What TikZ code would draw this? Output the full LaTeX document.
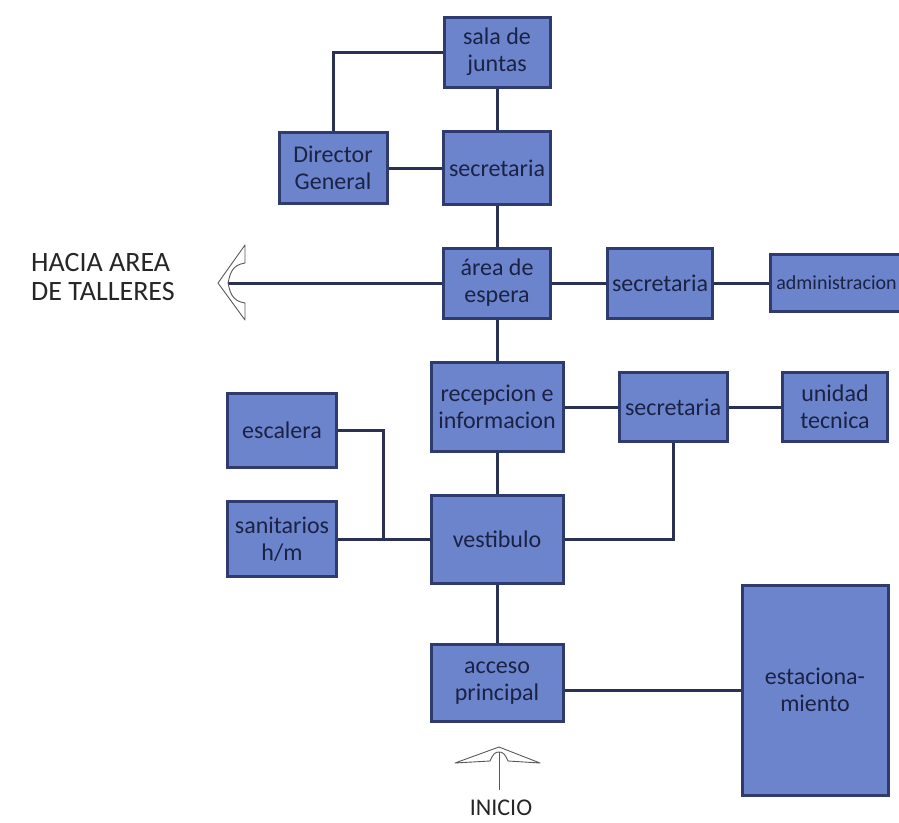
\documentclass[tikz,border=0pt]{standalone}
\usepackage{fontspec}
\setmainfont{Carlito}
\definecolor{cajafondo}{HTML}{6C84CB}
\definecolor{cajaborde}{HTML}{2F3B6E}
\definecolor{linea}{HTML}{2B3152}
\definecolor{texto}{HTML}{1B2245}
\tikzset{
  caja/.style={draw=cajaborde, line width=3pt, fill=cajafondo, text=texto,
    align=center, inner sep=0pt, font=\fontsize{24}{27}\selectfont},
  enlace/.style={draw=linea, line width=3pt},
  flecha/.style={draw=black!65, line width=0.9pt, line join=round},
  rotulo/.style={text=black!85, inner sep=0pt},
}

\begin{document}
\begin{tikzpicture}[x=1pt, y=-1pt]
    \useasboundingbox[fill=white] (0,0) rectangle (899,822);
    % Bloques
    \node[caja, minimum width=106, minimum height=70] (sala) at (497,52) {sala de\\juntas};
    \node[caja, minimum width=107, minimum height=73] (secA) at (497,168) {secretaria};
    \node[caja, minimum width=108, minimum height=71] (director) at (333,168) {Director\\General};
    \node[caja, minimum width=107, minimum height=70] (espera) at (497,283) {área de\\espera};
    \node[caja, minimum width=105, minimum height=70] (secB) at (660,283) {secretaria};
    \node[caja, minimum width=133, minimum height=57, font=\fontsize{20}{24}\selectfont] (admin) at (836.5,283) {administracion};
    \node[caja, minimum width=132, minimum height=89] (recepcion) at (497,407) {recepcion e\\informacion};
    \node[caja, minimum width=108, minimum height=69] (secC) at (673,407) {secretaria};
    \node[caja, minimum width=105, minimum height=69] (unidad) at (835,407) {unidad\\tecnica};
    \node[caja, minimum width=109, minimum height=74] (escalera) at (282,430) {escalera};
    \node[caja, minimum width=109, minimum height=75] (sanitarios) at (282,539) {sanitarios\\h/m};
    \node[caja, minimum width=132, minimum height=88] (vestibulo) at (497,539) {vestibulo};
    \node[caja, minimum width=132, minimum height=77] (acceso) at (497,683) {acceso\\principal};
    \node[caja, minimum width=146, minimum height=210] (parking) at (815,690) {estaciona-\\miento};
    % Rotulos
    \node[rotulo, align=left, font=\fontsize{28}{29}\selectfont] (talleres) at (103,277) {HACIA AREA\\DE TALLERES};
    \node[rotulo, font=\fontsize{24}{27}\selectfont] (inicio) at (501,808) {INICIO};
    \coordinate (finT) at (228,283);
    \coordinate (codo) at (383,539);
    \coordinate (pieI) at (499,790);
    \coordinate (finI) at (499,752);
    % Enlaces
    \draw[enlace] (sala.west) -| (director.north);
    \draw[enlace] (director.east) -- (secA.west);
    \draw[enlace] (sala.south) -- (secA.north);
    \draw[enlace] (secA.south) -- (espera.north);
    \draw[enlace] (espera.west) -- (finT);
    \draw[enlace] (espera.east) -- (secB.west);
    \draw[enlace] (secB.east) -- (admin.west);
    \draw[enlace] (espera.south) -- (recepcion.north);
    \draw[enlace] (recepcion.east) -- (secC.west);
    \draw[enlace] (secC.east) -- (unidad.west);
    \draw[enlace] (secC.south) |- (vestibulo.east);
    \draw[enlace] (recepcion.south) -- (vestibulo.north);
    \draw[enlace] (escalera.east) -| (codo);
    \draw[enlace] (sanitarios.east) -- (vestibulo.west);
    \draw[enlace] (vestibulo.south) -- (acceso.north);
    \draw[enlace] (parking.west) -- (parking.west -| acceso.east);
    % Flechas huecas
    \draw[flecha] (finT) ++(17,-38) -- ++(-27,38) -- ++(27,37) -- ++(0,-17)
        .. controls ++(-14,-2) and ++(2,8) .. (finT)
        .. controls ++(2,-8) and ++(-14,2) .. ++(17,-20) -- cycle;
    \draw[flecha] (pieI) -- (finI);
    \draw[flecha] (finI) ++(-44,11) -- ++(44,-16) -- ++(41,16) -- ++(-32,-2)
        .. controls ++(-3,-7) and ++(4,0) .. (finI)
        .. controls ++(-4,0) and ++(3,-7) .. ++(-9,9) -- cycle;
\end{tikzpicture}
\end{document}
